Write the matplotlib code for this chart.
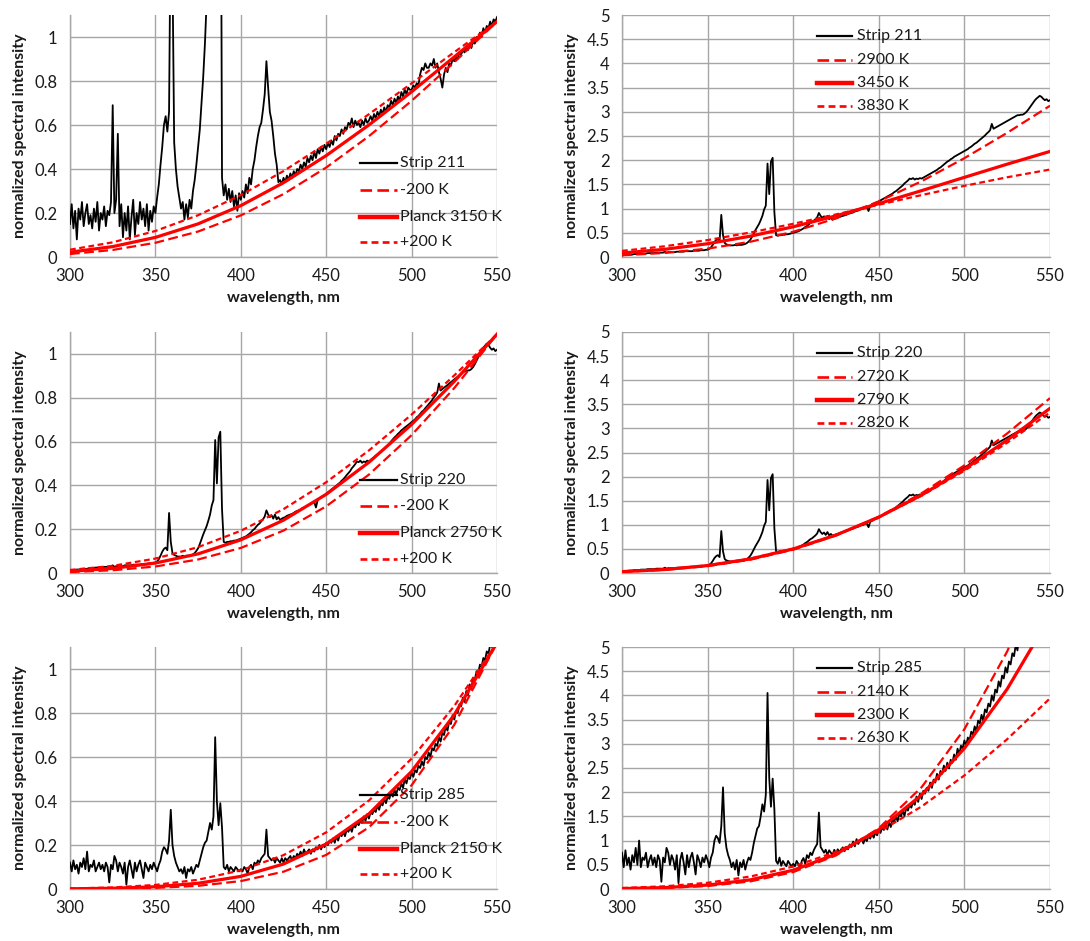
import numpy as np
import matplotlib
matplotlib.use("Agg")
import matplotlib.pyplot as plt
from matplotlib.lines import Line2D
from matplotlib.ticker import MultipleLocator, FuncFormatter

plt.rcParams['font.family'] = ['Lato', 'DejaVu Sans']

# ---------------- data ----------------
# measured spectra are sampled every 1 nm from 300 to 550 nm
spec_wl = np.arange(300, 551, 1)
# Planck reference curves read every 25 nm
planck_wl = [300, 325, 350, 375, 400, 425, 450, 475, 500, 525, 550]

strip211_rel = [
    0.15, 0.24, 0.13, 0.21, 0.08, 0.22, 0.17, 0.25, 0.14, 0.20,
    0.24, 0.15, 0.19, 0.13, 0.22, 0.16, 0.25, 0.12, 0.20, 0.17,
    0.23, 0.14, 0.21, 0.19, 0.25, 0.69, 0.20, 0.26, 0.56, 0.14,
    0.24, 0.09, 0.20, 0.12, 0.23, 0.08, 0.18, 0.26, 0.10, 0.20,
    0.15, 0.25, 0.17, 0.22, 0.14, 0.24, 0.12, 0.21, 0.16, 0.23,
    0.20, 0.27, 0.33, 0.42, 0.50, 0.60, 0.64, 0.57, 0.66, 1.60,
    1.30, 0.52, 0.40, 0.32, 0.27, 0.22, 0.25, 0.17, 0.24, 0.18,
    0.26, 0.22, 0.30, 0.35, 0.42, 0.50, 0.58, 0.70, 0.82, 0.97,
    1.15, 1.50, 2.00, 2.50, 3.00, 3.50, 3.40, 3.60, 2.60, 0.36,
    0.28, 0.33, 0.26, 0.31, 0.25, 0.30, 0.23, 0.28, 0.21, 0.29,
    0.26, 0.30, 0.27, 0.33, 0.29, 0.36, 0.33, 0.40, 0.44, 0.50,
    0.55, 0.59, 0.61, 0.67, 0.74, 0.89, 0.77, 0.66, 0.62, 0.55,
    0.47, 0.42, 0.34, 0.35, 0.33, 0.36, 0.34, 0.37, 0.35, 0.38,
    0.36, 0.39, 0.37, 0.40, 0.39, 0.42, 0.40, 0.43, 0.41, 0.45,
    0.43, 0.46, 0.44, 0.48, 0.45, 0.49, 0.47, 0.50, 0.48, 0.51,
    0.49, 0.52, 0.50, 0.53, 0.51, 0.55, 0.53, 0.56, 0.55, 0.58,
    0.56, 0.59, 0.58, 0.61, 0.60, 0.63, 0.59, 0.62, 0.60, 0.61,
    0.59, 0.62, 0.60, 0.63, 0.61, 0.62, 0.64, 0.62, 0.65, 0.63,
    0.66, 0.64, 0.67, 0.65, 0.68, 0.66, 0.69, 0.68, 0.71, 0.69,
    0.72, 0.70, 0.73, 0.71, 0.75, 0.73, 0.76, 0.74, 0.77, 0.76,
    0.76, 0.78, 0.77, 0.79, 0.78, 0.83, 0.86, 0.85, 0.88, 0.86,
    0.86, 0.88, 0.87, 0.90, 0.86, 0.88, 0.84, 0.81, 0.77, 0.83,
    0.86, 0.84, 0.88, 0.87, 0.90, 0.89, 0.91, 0.90, 0.93, 0.92,
    0.94, 0.93, 0.95, 0.94, 0.97, 0.95, 0.98, 0.97, 1.00, 0.99,
    1.02, 1.00, 1.04, 1.02, 1.05, 1.04, 1.07, 1.05, 1.08, 1.07,
    1.09,
]

strip220_abs = [
    0.03, 0.04, 0.04, 0.04, 0.05, 0.05, 0.05, 0.06, 0.06, 0.06,
    0.06, 0.07, 0.07, 0.07, 0.07, 0.08, 0.08, 0.08, 0.08, 0.08,
    0.09, 0.09, 0.09, 0.09, 0.09, 0.11, 0.09, 0.10, 0.10, 0.10,
    0.10, 0.10, 0.11, 0.11, 0.11, 0.11, 0.11, 0.12, 0.12, 0.12,
    0.12, 0.12, 0.13, 0.13, 0.13, 0.13, 0.14, 0.14, 0.14, 0.15,
    0.15, 0.17, 0.20, 0.25, 0.31, 0.35, 0.37, 0.33, 0.87, 0.45,
    0.29, 0.26, 0.25, 0.24, 0.24, 0.24, 0.25, 0.24, 0.25, 0.25,
    0.25, 0.26, 0.27, 0.29, 0.32, 0.36, 0.42, 0.49, 0.56, 0.62,
    0.68, 0.76, 0.85, 0.98, 1.06, 1.93, 1.30, 1.97, 2.05, 0.93,
    0.45, 0.44, 0.45, 0.45, 0.46, 0.46, 0.47, 0.47, 0.48, 0.49,
    0.50, 0.51, 0.52, 0.53, 0.55, 0.57, 0.59, 0.62, 0.64, 0.67,
    0.70, 0.72, 0.75, 0.78, 0.82, 0.91, 0.85, 0.81, 0.84, 0.79,
    0.85, 0.78, 0.81, 0.77, 0.79, 0.80, 0.81, 0.83, 0.84, 0.85,
    0.86, 0.87, 0.89, 0.90, 0.91, 0.92, 0.94, 0.95, 0.96, 0.98,
    0.99, 1.00, 1.02, 1.03, 0.95, 1.06, 1.08, 1.10, 1.12, 1.13,
    1.15, 1.17, 1.19, 1.21, 1.23, 1.25, 1.27, 1.29, 1.31, 1.34,
    1.36, 1.39, 1.42, 1.45, 1.48, 1.52, 1.55, 1.58, 1.62, 1.61,
    1.63, 1.60, 1.62, 1.61, 1.63, 1.62, 1.64, 1.66, 1.68, 1.70,
    1.72, 1.74, 1.76, 1.78, 1.80, 1.83, 1.85, 1.88, 1.91, 1.94,
    1.97, 1.99, 2.02, 2.04, 2.07, 2.09, 2.11, 2.13, 2.15, 2.17,
    2.19, 2.21, 2.23, 2.26, 2.28, 2.31, 2.34, 2.36, 2.39, 2.42,
    2.45, 2.48, 2.51, 2.55, 2.58, 2.62, 2.75, 2.65, 2.67, 2.69,
    2.71, 2.73, 2.75, 2.77, 2.79, 2.81, 2.83, 2.85, 2.87, 2.89,
    2.91, 2.93, 2.93, 2.94, 2.94, 2.96, 2.99, 3.03, 3.08, 3.13,
    3.18, 3.23, 3.27, 3.30, 3.33, 3.31, 3.27, 3.24, 3.26, 3.22,
    3.24,
]
# the top-right panel shows the very same trace as the Strip 220 panel
strip211_abs = strip220_abs

strip220_rel = [
    0.009, 0.013, 0.013, 0.013, 0.016, 0.016, 0.016, 0.019, 0.019, 0.019,
    0.019, 0.022, 0.022, 0.022, 0.022, 0.025, 0.025, 0.025, 0.025, 0.025,
    0.028, 0.028, 0.028, 0.028, 0.028, 0.035, 0.028, 0.031, 0.031, 0.031,
    0.031, 0.031, 0.035, 0.035, 0.035, 0.035, 0.035, 0.038, 0.038, 0.038,
    0.038, 0.038, 0.041, 0.041, 0.041, 0.041, 0.044, 0.044, 0.044, 0.047,
    0.047, 0.053, 0.063, 0.079, 0.097, 0.110, 0.116, 0.104, 0.274, 0.142,
    0.091, 0.082, 0.079, 0.075, 0.075, 0.075, 0.079, 0.075, 0.079, 0.079,
    0.079, 0.082, 0.085, 0.091, 0.101, 0.113, 0.132, 0.154, 0.176, 0.195,
    0.214, 0.239, 0.267, 0.308, 0.333, 0.607, 0.409, 0.619, 0.645, 0.292,
    0.142, 0.138, 0.142, 0.142, 0.145, 0.145, 0.148, 0.148, 0.151, 0.154,
    0.157, 0.160, 0.164, 0.167, 0.173, 0.179, 0.186, 0.195, 0.201, 0.211,
    0.220, 0.226, 0.236, 0.245, 0.258, 0.286, 0.267, 0.255, 0.264, 0.248,
    0.267, 0.245, 0.255, 0.242, 0.248, 0.252, 0.255, 0.261, 0.264, 0.267,
    0.270, 0.274, 0.280, 0.283, 0.286, 0.289, 0.296, 0.299, 0.302, 0.308,
    0.311, 0.314, 0.321, 0.324, 0.299, 0.333, 0.340, 0.346, 0.352, 0.355,
    0.362, 0.368, 0.374, 0.381, 0.387, 0.393, 0.399, 0.406, 0.412, 0.421,
    0.428, 0.437, 0.447, 0.456, 0.465, 0.478, 0.487, 0.497, 0.509, 0.506,
    0.513, 0.503, 0.509, 0.506, 0.513, 0.509, 0.516, 0.522, 0.528, 0.535,
    0.541, 0.547, 0.553, 0.560, 0.566, 0.575, 0.582, 0.591, 0.601, 0.610,
    0.619, 0.626, 0.635, 0.642, 0.651, 0.657, 0.664, 0.670, 0.676, 0.682,
    0.689, 0.695, 0.701, 0.711, 0.717, 0.726, 0.736, 0.742, 0.752, 0.761,
    0.770, 0.780, 0.789, 0.802, 0.811, 0.824, 0.865, 0.833, 0.840, 0.846,
    0.852, 0.858, 0.865, 0.871, 0.877, 0.884, 0.890, 0.896, 0.903, 0.909,
    0.915, 0.921, 0.921, 0.925, 0.925, 0.931, 0.940, 0.953, 0.969, 0.984,
    1.000, 1.016, 1.028, 1.038, 1.047, 1.041, 1.028, 1.019, 1.025, 1.013,
    1.019,
]

strip285_rel = [
    0.12, 0.08, 0.13, 0.09, 0.11, 0.07, 0.12, 0.10, 0.14, 0.09,
    0.17, 0.08, 0.11, 0.10, 0.13, 0.08, 0.10, 0.12, 0.09, 0.11,
    0.08, 0.12, 0.10, 0.03, 0.11, 0.09, 0.15, 0.13, 0.08, 0.12,
    0.10, 0.07, 0.12, 0.02, 0.10, 0.13, 0.09, 0.05, 0.12, 0.08,
    0.11, 0.13, 0.09, 0.05, 0.12, 0.10, 0.08, 0.11, 0.09, 0.12,
    0.10, 0.08, 0.11, 0.13, 0.17, 0.19, 0.18, 0.16, 0.22, 0.36,
    0.20, 0.15, 0.12, 0.10, 0.08, 0.09, 0.07, 0.10, 0.05, 0.09,
    0.08, 0.10, 0.07, 0.09, 0.11, 0.10, 0.13, 0.16, 0.19, 0.21,
    0.22, 0.26, 0.30, 0.27, 0.33, 0.69, 0.40, 0.29, 0.39, 0.28,
    0.10, 0.09, 0.11, 0.08, 0.10, 0.09, 0.08, 0.10, 0.09, 0.08,
    0.09, 0.08, 0.10, 0.09, 0.07, 0.10, 0.11, 0.09, 0.12, 0.11,
    0.13, 0.12, 0.14, 0.15, 0.16, 0.27, 0.15, 0.14, 0.13, 0.14,
    0.12, 0.14, 0.13, 0.12, 0.14, 0.12, 0.14, 0.13, 0.14, 0.15,
    0.13, 0.15, 0.14, 0.16, 0.15, 0.17, 0.15, 0.18, 0.16, 0.17,
    0.18, 0.16, 0.18, 0.17, 0.19, 0.18, 0.20, 0.18, 0.20, 0.19,
    0.21, 0.20, 0.22, 0.21, 0.23, 0.21, 0.24, 0.22, 0.25, 0.24,
    0.26, 0.24, 0.27, 0.26, 0.28, 0.26, 0.29, 0.28, 0.30, 0.29,
    0.31, 0.30, 0.33, 0.31, 0.34, 0.32, 0.35, 0.34, 0.36, 0.35,
    0.38, 0.36, 0.39, 0.38, 0.41, 0.39, 0.42, 0.41, 0.44, 0.42,
    0.45, 0.43, 0.46, 0.45, 0.48, 0.46, 0.50, 0.48, 0.51, 0.50,
    0.53, 0.51, 0.54, 0.53, 0.56, 0.55, 0.58, 0.56, 0.60, 0.59,
    0.62, 0.60, 0.64, 0.63, 0.66, 0.65, 0.69, 0.67, 0.71, 0.70,
    0.74, 0.72, 0.76, 0.75, 0.79, 0.77, 0.81, 0.80, 0.84, 0.83,
    0.87, 0.85, 0.90, 0.88, 0.93, 0.91, 0.96, 0.95, 0.99, 0.98,
    1.02, 1.01, 1.05, 1.04, 1.08, 1.07, 1.11, 1.10, 1.14, 1.13,
    1.17,
]

strip285_abs = [
    0.75, 0.45, 0.80, 0.50, 0.65, 0.40, 0.70, 0.55, 0.85, 0.50,
    1.00, 0.45, 0.65, 0.60, 0.75, 0.45, 0.60, 0.70, 0.50, 0.65,
    0.45, 0.70, 0.60, 0.15, 0.65, 0.55, 0.85, 0.75, 0.50, 0.70,
    0.60, 0.40, 0.70, 0.12, 0.60, 0.75, 0.55, 0.30, 0.70, 0.45,
    0.65, 0.75, 0.55, 0.30, 0.70, 0.60, 0.45, 0.65, 0.55, 0.70,
    0.60, 0.45, 0.65, 0.75, 1.00, 1.10, 1.05, 0.95, 1.30, 2.10,
    1.15, 0.85, 0.70, 0.60, 0.45, 0.55, 0.40, 0.60, 0.28, 0.55,
    0.45, 0.60, 0.40, 0.55, 0.65, 0.60, 0.75, 0.95, 1.10, 1.25,
    1.30, 1.50, 1.75, 1.60, 1.95, 4.05, 2.30, 1.70, 2.28, 1.65,
    0.58, 0.52, 0.65, 0.48, 0.58, 0.52, 0.47, 0.58, 0.52, 0.47,
    0.52, 0.47, 0.58, 0.52, 0.42, 0.58, 0.64, 0.52, 0.70, 0.64,
    0.75, 0.70, 0.80, 0.87, 0.93, 1.58, 0.87, 0.81, 0.75, 0.81,
    0.70, 0.80, 0.75, 0.70, 0.81, 0.73, 0.82, 0.76, 0.82, 0.86,
    0.78, 0.87, 0.82, 0.92, 0.87, 0.98, 0.88, 1.03, 0.93, 0.99,
    1.04, 0.94, 1.05, 0.99, 1.10, 1.04, 1.15, 1.06, 1.17, 1.11,
    1.22, 1.16, 1.27, 1.22, 1.33, 1.23, 1.38, 1.28, 1.44, 1.39,
    1.50, 1.40, 1.56, 1.50, 1.62, 1.51, 1.68, 1.62, 1.74, 1.68,
    1.80, 1.74, 1.91, 1.80, 1.97, 1.86, 2.03, 1.97, 2.09, 2.03,
    2.20, 2.09, 2.26, 2.20, 2.38, 2.26, 2.44, 2.38, 2.55, 2.44,
    2.61, 2.49, 2.67, 2.61, 2.78, 2.67, 2.90, 2.78, 2.96, 2.90,
    3.07, 2.96, 3.13, 3.07, 3.25, 3.19, 3.36, 3.25, 3.48, 3.42,
    3.60, 3.48, 3.71, 3.65, 3.83, 3.77, 4.00, 3.89, 4.12, 4.06,
    4.29, 4.18, 4.41, 4.35, 4.58, 4.47, 4.70, 4.64, 4.87, 4.81,
    5.05, 4.93, 5.22, 5.10, 5.39, 5.28, 5.57, 5.51, 5.74, 5.68,
    5.92, 5.86, 6.09, 6.03, 6.26, 6.21, 6.44, 6.38, 6.61, 6.55,
    6.79,
]

# Planck curves (values read at planck_wl)
p1_minus200 = [0.0137, 0.0320, 0.0646, 0.1158, 0.1891, 0.2861, 0.4067, 0.5491, 0.7099, 0.8854, 1.07]
p1_planck3150 = [0.0219, 0.0473, 0.0891, 0.1506, 0.2335, 0.3377, 0.4609, 0.6001, 0.7511, 0.9095, 1.07]
p1_plus200 = [0.0331, 0.0667, 0.1183, 0.1899, 0.2813, 0.3906, 0.5146, 0.6490, 0.7893, 0.9312, 1.07]

p2_2900 = [0.0352, 0.0841, 0.1729, 0.3150, 0.5215, 0.7989, 1.1482, 1.5654, 2.0421, 2.5663, 3.125]
p2_3450 = [0.0814, 0.1590, 0.2744, 0.4301, 0.6242, 0.8513, 1.1033, 1.3712, 1.6458, 1.9184, 2.1814]
p2_3830 = [0.1263, 0.2217, 0.3495, 0.5062, 0.6857, 0.8800, 1.0805, 1.2794, 1.4702, 1.6475, 1.8073]

p3_minus200 = [0.0044, 0.0125, 0.0297, 0.0616, 0.1143, 0.1936, 0.3042, 0.4490, 0.6293, 0.8442, 1.09]
p3_planck2750 = [0.0081, 0.0209, 0.0455, 0.0873, 0.1512, 0.2411, 0.3590, 0.5052, 0.6780, 0.8747, 1.09]
p3_plus200 = [0.0139, 0.0326, 0.0658, 0.1180, 0.1926, 0.2915, 0.4143, 0.5593, 0.7232, 0.9020, 1.09]

p4_2720 = [0.0248, 0.0646, 0.1427, 0.2768, 0.4840, 0.7781, 1.1675, 1.6540, 2.2334, 2.8959, 3.6282]
p4_2790 = [0.0286, 0.0719, 0.1542, 0.2916, 0.4988, 0.7865, 1.1596, 1.6177, 2.1540, 2.7579, 3.4159]
p4_2820 = [0.0303, 0.0751, 0.1592, 0.2980, 0.5051, 0.7899, 1.1565, 1.6029, 2.1220, 2.7027, 3.3319]

p5_minus200 = [0.0003, 0.0014, 0.0050, 0.0145, 0.0360, 0.0786, 0.1550, 0.2803, 0.4715, 0.7463, 1.12]
p5_planck2150 = [0.0009, 0.0034, 0.0103, 0.0260, 0.0574, 0.1135, 0.2045, 0.3414, 0.5343, 0.7920, 1.12]
p5_plus200 = [0.0022, 0.0070, 0.0185, 0.0421, 0.0847, 0.1539, 0.2574, 0.4020, 0.5926, 0.8320, 1.12]

p6_2140 = [0.0054, 0.0204, 0.0617, 0.1573, 0.3495, 0.6936, 1.2551, 2.1028, 3.3018, 4.9084, 6.9628]
p6_2300 = [0.0089, 0.0297, 0.0811, 0.1892, 0.3886, 0.7201, 1.2258, 1.9444, 2.9066, 4.1323, 5.6285]
p6_2630 = [0.0205, 0.0559, 0.1284, 0.2577, 0.4645, 0.7669, 1.1782, 1.7049, 2.3463, 3.0953, 3.9394]

x_ticks = [300, 350, 400, 450, 500, 550]

# ---------------- styles ----------------
RED = '#FF0000'
GRID = '#A6A6A6'
TXT = '#1A1A1A'
FS = 11.5
FS_TICK = 12
style_black = dict(color='black', lw=1.3)
style_long = dict(color=RED, lw=1.6, dashes=(4.4, 2.0))
style_solid = dict(color=RED, lw=2.3)
style_short = dict(color=RED, lw=1.6, dashes=(2.6, 1.6))

W, H = 1090, 941
fig = plt.figure(figsize=(W / 100, H / 100), dpi=100)


def make_axes(x0, x1, y0, y1):
    return fig.add_axes([x0 / W, 1 - y1 / H, (x1 - x0) / W, (y1 - y0) / H])


panels = [
    dict(box=(70, 497, 15, 257), spec=strip211_rel, ymax=1.1, ystep=0.2,
         curves=[(p1_minus200, style_long, '-200 K'),
                 (p1_planck3150, style_solid, 'Planck 3150 K'),
                 (p1_plus200, style_short, '+200 K')],
         strip='Strip 211', leg='left'),
    dict(box=(622, 1050, 15, 257), spec=strip211_abs, ymax=5, ystep=0.5,
         curves=[(p2_2900, style_long, '2900 K'),
                 (p2_3450, style_solid, '3450 K'),
                 (p2_3830, style_short, '3830 K')],
         strip='Strip 211', leg='right'),
    dict(box=(70, 497, 332, 573), spec=strip220_rel, ymax=1.1, ystep=0.2,
         curves=[(p3_minus200, style_long, '-200 K'),
                 (p3_planck2750, style_solid, 'Planck 2750 K'),
                 (p3_plus200, style_short, '+200 K')],
         strip='Strip 220', leg='left'),
    dict(box=(622, 1050, 332, 573), spec=strip220_abs, ymax=5, ystep=0.5,
         curves=[(p4_2720, style_long, '2720 K'),
                 (p4_2790, style_solid, '2790 K'),
                 (p4_2820, style_short, '2820 K')],
         strip='Strip 220', leg='right'),
    dict(box=(70, 497, 647, 889), spec=strip285_rel, ymax=1.1, ystep=0.2,
         curves=[(p5_minus200, style_long, '-200 K'),
                 (p5_planck2150, style_solid, 'Planck 2150 K'),
                 (p5_plus200, style_short, '+200 K')],
         strip='Strip 285', leg='left'),
    dict(box=(622, 1050, 647, 889), spec=strip285_abs, ymax=5, ystep=0.5,
         curves=[(p6_2140, style_long, '2140 K'),
                 (p6_2300, style_solid, '2300 K'),
                 (p6_2630, style_short, '2630 K')],
         strip='Strip 285', leg='right'),
]

fmt = FuncFormatter(lambda v, pos: f"{v:g}")

for p in panels:
    ax = make_axes(*p['box'])
    ax.plot(spec_wl, p['spec'], **style_black, zorder=3)
    for vals, st, lab in p['curves']:
        ax.plot(planck_wl, vals, **st, zorder=4)

    ax.set_xlim(300, 550)
    ax.set_ylim(0, p['ymax'])
    ax.set_xticks(x_ticks)
    ax.yaxis.set_major_locator(MultipleLocator(p['ystep']))
    ax.yaxis.set_major_formatter(fmt)
    ax.set_axisbelow(True)
    ax.grid(True, color=GRID, lw=1.0)
    for s in ('top', 'right'):
        ax.spines[s].set_visible(False)
    for s in ('left', 'bottom'):
        ax.spines[s].set_color(GRID)
        ax.spines[s].set_linewidth(1.0)
    ax.tick_params(length=0, labelsize=FS_TICK, labelcolor=TXT)
    ax.tick_params(axis='y', pad=9)
    ax.tick_params(axis='x', pad=8)

    ax.set_xlabel('wavelength, nm', fontsize=FS, fontweight='bold', color=TXT, va='center')
    ax.xaxis.set_label_coords(0.5, -41 / 242)
    ax.set_ylabel('normalized spectral intensity', fontsize=FS, fontweight='bold',
                  color=TXT, va='center')
    ax.yaxis.set_label_coords(-50 / 427, 0.5)

    # legend drawn as in the original (no frame, text over the plot)
    entries = [(style_black, p['strip'])] + [(st, lab) for _, st, lab in p['curves']]
    if p['leg'] == 'left':
        hx0, hx1, tx = 0.679, 0.766, 0.773
        ys = [0.387, 0.277, 0.167, 0.060]
    else:
        hx0, hx1, tx = 0.456, 0.537, 0.549
        ys = [0.913, 0.815, 0.718, 0.622]
    for (st, lab), yy in zip(entries, ys):
        lw = st['lw'] + (0.9 if st is style_solid else 0.3)
        kw = dict(st)
        kw['lw'] = lw
        ax.add_line(Line2D([hx0, hx1], [yy, yy], transform=ax.transAxes,
                           clip_on=False, zorder=6, **kw))
        ax.text(tx, yy, lab, transform=ax.transAxes, va='center', ha='left',
                fontsize=FS, color=TXT, zorder=6)

fig.savefig('out.png', dpi=100)
